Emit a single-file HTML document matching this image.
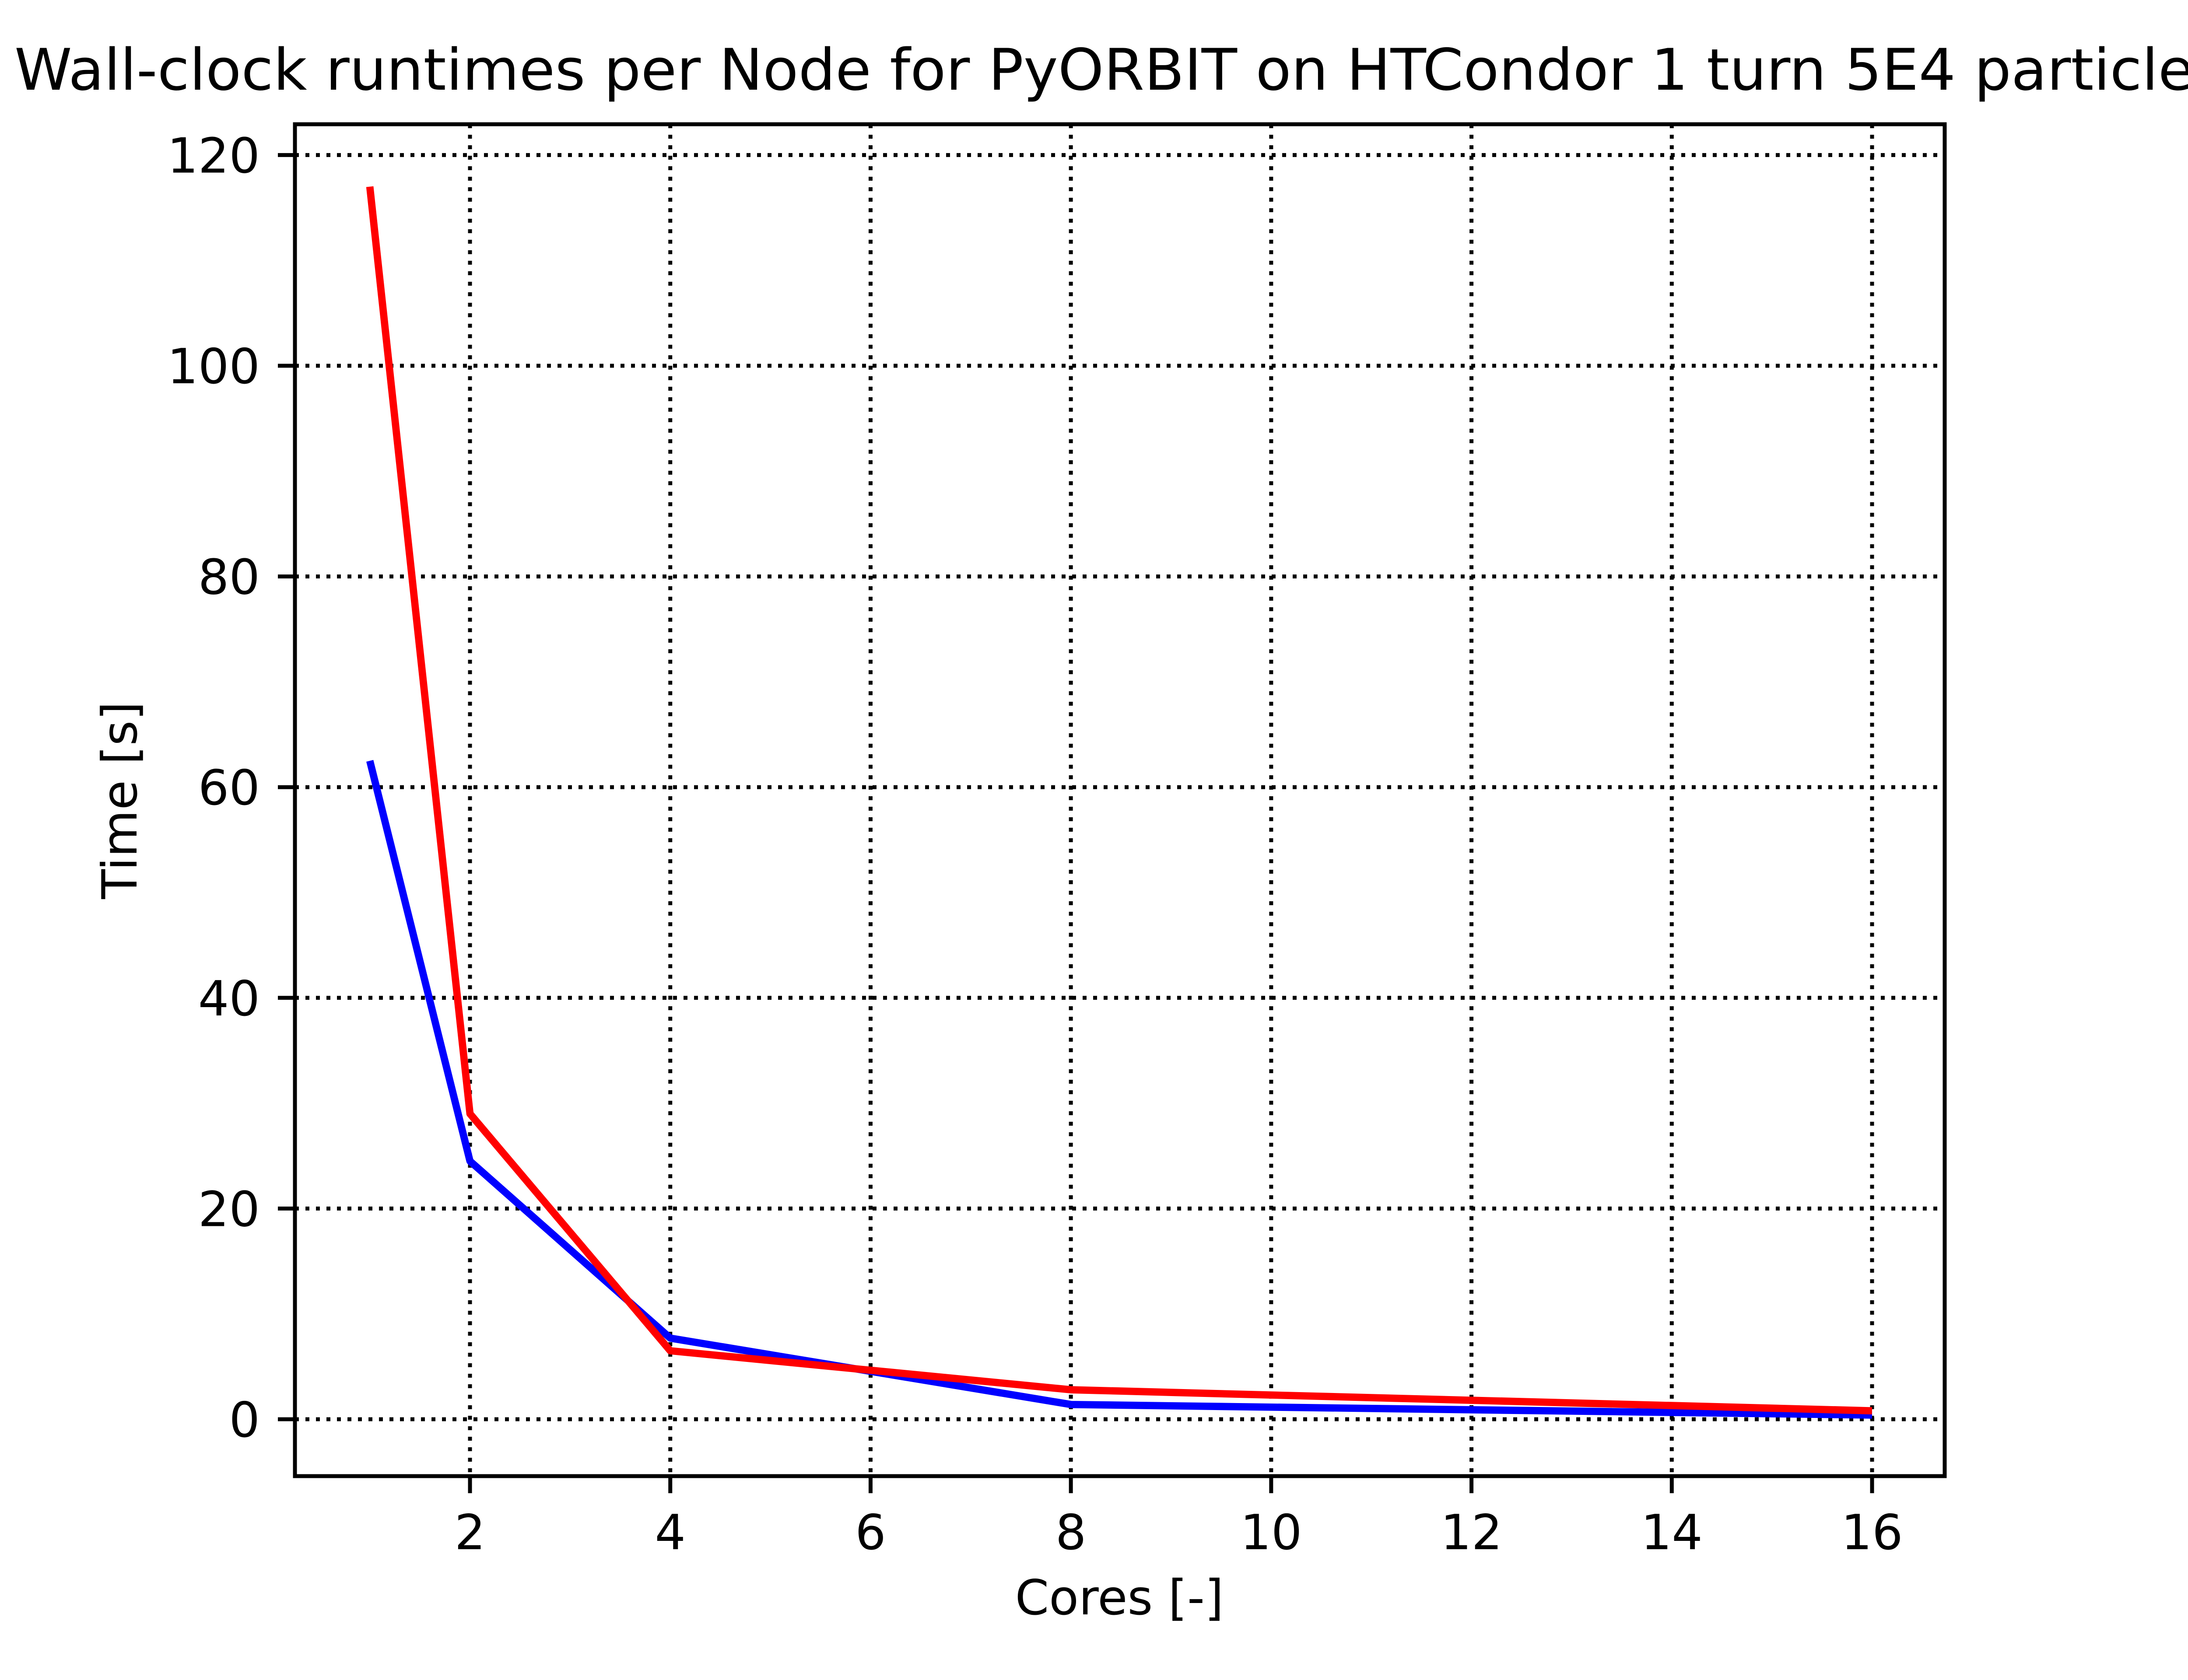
<!DOCTYPE html>
<html><head><meta charset="utf-8"><style>
html,body{margin:0;padding:0;background:#fff;}
svg{display:block;font-family:"DejaVu Sans","Liberation Sans",sans-serif;}
</style></head><body>
<svg id="chart" width="5120" height="3840" viewBox="0 0 5120 3840" xmlns="http://www.w3.org/2000/svg">
<rect width="5120" height="3840" fill="#fff"/>
<g id="grid"></g>
<g id="series"></g>
<rect x="674" y="284" width="3770" height="3090" fill="none" stroke="#000" stroke-width="9"/>
<g id="ticks"></g>
<text x="2558" y="205" font-size="131" text-anchor="middle" textLength="5050" lengthAdjust="spacingAndGlyphs">Wall-clock runtimes per Node for PyORBIT on HTCondor 1 turn 5E4 particles</text>
<text x="2558" y="3690" font-size="111" text-anchor="middle">Cores [-]</text>
<text x="0" y="0" font-size="111" text-anchor="middle" transform="translate(312,1829) rotate(-90)">Time [s]</text>
</svg>
<script>
const cores = [1, 2, 4, 8, 16];
const redTimes = [117, 29, 6.5, 2.8, 0.8];
const blueTimes = [62.5, 24.5, 7.7, 1.4, 0.4];
const xTicks = [2, 4, 6, 8, 10, 12, 14, 16];
const yTicks = [0, 20, 40, 60, 80, 100, 120];

const NS = "http://www.w3.org/2000/svg";
function sx(v){ return 1074 + (v - 2) * 228.86; }
function sy(v){ return 3244 - v * 24.08; }
function mk(tag, attrs, parent){
  const e = document.createElementNS(NS, tag);
  for (const k in attrs) e.setAttribute(k, attrs[k]);
  parent.appendChild(e);
  return e;
}
const grid = document.getElementById('grid');
const ticks = document.getElementById('ticks');
const series = document.getElementById('series');

xTicks.forEach(t => {
  const x = sx(t);
  const g = mk('line', {x1:x, x2:x, y1:284, y2:3374, stroke:'#000', 'stroke-width':9, 'stroke-dasharray':'9 15'}, grid);
  
  
  const tk = mk('line', {x1:x, x2:x, y1:3374, y2:3413, stroke:'#000', 'stroke-width':9}, ticks);
  
  
  const lb = mk('text', {x:x, y:3541, 'font-size':111, 'text-anchor':'middle'}, ticks);
  lb.textContent = t;
  
  
});
yTicks.forEach(t => {
  const y = sy(t);
  const g = mk('line', {x1:674, x2:4444, y1:y, y2:y, stroke:'#000', 'stroke-width':9, 'stroke-dasharray':'9 15'}, grid);
  
  
  const tk = mk('line', {x1:635, x2:674, y1:y, y2:y, stroke:'#000', 'stroke-width':9}, ticks);
  
  
  const lb = mk('text', {x:594, y:y + 40, 'font-size':111, 'text-anchor':'end'}, ticks);
  lb.textContent = t;
  
  
});
function drawLine(vals, color, name){
  const pts = cores.map((c, i) => sx(c).toFixed(1) + ',' + sy(vals[i]).toFixed(1)).join(' ');
  const p = mk('polyline', {points:pts, fill:'none', stroke:color, 'stroke-width':16.7, 'stroke-linejoin':'round'}, series);
  
  
}
drawLine(blueTimes, '#0000ff', 'blue-series-line');
drawLine(redTimes, '#ff0000', 'red-series-line');
</script>
</body></html>
